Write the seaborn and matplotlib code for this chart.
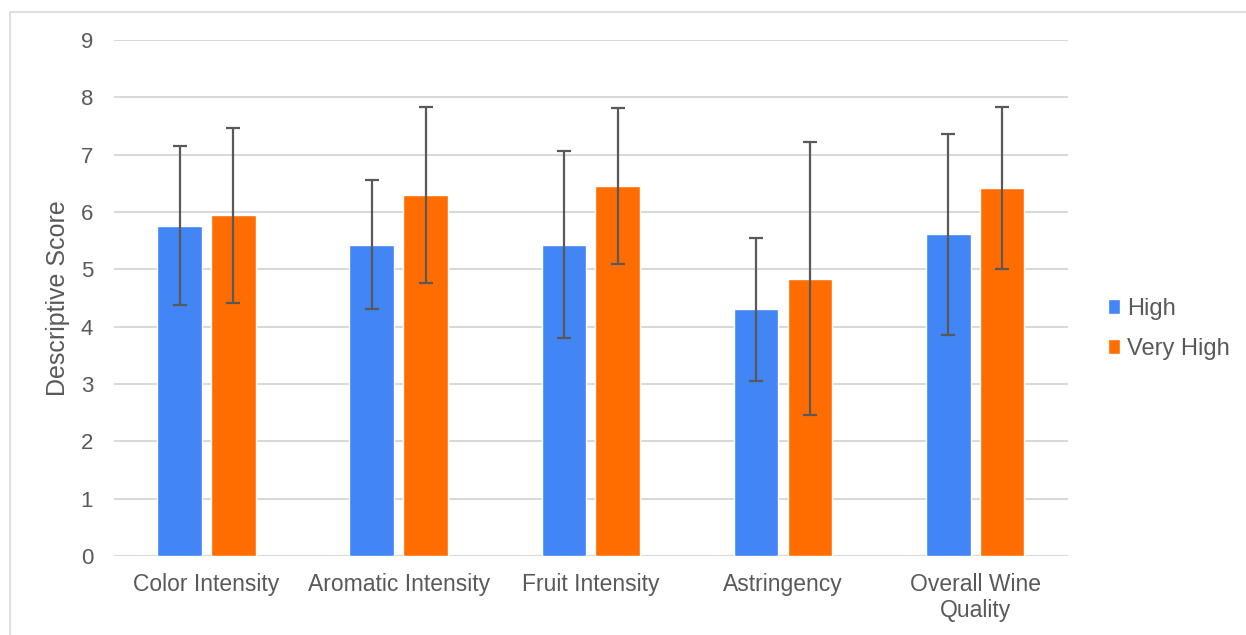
import pandas as pd
import seaborn as sns
import matplotlib.pyplot as plt
from matplotlib.patches import Rectangle

# values
categories = ["Color Intensity", "Aromatic Intensity", "Fruit Intensity",
              "Astringency", "Overall Wine\nQuality"]
groups = ["High", "Very High"]
high_mean = [5.76, 5.43, 5.43, 4.30, 5.61]
high_sd = [1.39, 1.12, 1.63, 1.25, 1.75]
vhigh_mean = [5.94, 6.30, 6.46, 4.84, 6.42]
vhigh_sd = [1.52, 1.53, 1.36, 2.38, 1.41]

df = pd.DataFrame({
    "category": categories * 2,
    "group": [groups[0]] * 5 + [groups[1]] * 5,
    "score": high_mean + vhigh_mean,
})
sds = {"High": high_sd, "Very High": vhigh_sd}

sns.set_theme(style="white")
plt.rcParams["font.family"] = ["Liberation Sans", "DejaVu Sans"]
grey = "#595959"

fig = plt.figure(figsize=(12.46, 6.35), dpi=100)
ax = fig.add_axes([0.0915, 0.1244, 0.7654, 0.8126])

sns.barplot(data=df, x="category", y="score", hue="group", hue_order=groups,
            palette=["#4285F4", "#FF6D01"], width=0.56, gap=0.17,
            errorbar=None, saturation=1, ax=ax, zorder=2)

# error bars centred on the bars seaborn drew
for cont, g in zip(ax.containers, groups):
    xs = [b.get_x() + b.get_width() / 2 for b in cont]
    ys = [b.get_height() for b in cont]
    ax.errorbar(xs, ys, yerr=sds[g], fmt="none", ecolor=grey,
                elinewidth=1.6, capsize=4.8, capthick=1.6, zorder=3)

ax.set_ylim(0, 9)
ax.set_yticks(range(10))
ax.yaxis.grid(True, color="#D9D9D9", linewidth=1.5, zorder=0)
ax.set_axisbelow(True)
for s in ax.spines.values():
    s.set_visible(False)
ax.tick_params(axis="both", length=0, colors=grey)
ax.tick_params(axis="y", pad=15, labelsize=16)
ax.tick_params(axis="x", pad=12, labelsize=16.5)
ax.set_xlabel("")
ax.set_ylabel("Descriptive Score", color=grey, fontsize=18, labelpad=8)

sns.move_legend(ax, "center left", bbox_to_anchor=(1.02, 0.44), frameon=False,
                title=None, fontsize=17, handlelength=0.5, handleheight=0.6,
                handletextpad=0.3, labelspacing=0.75)
for t in ax.get_legend().get_texts():
    t.set_color(grey)

# light chart-area border as in the source
fig.patches.append(Rectangle((10 / 1246, -0.1), 1.2, 1.1 - 12 / 635,
                             transform=fig.transFigure, fill=False,
                             edgecolor="#D9D9D9", linewidth=1.2))

fig.savefig("out.png", dpi=100)
